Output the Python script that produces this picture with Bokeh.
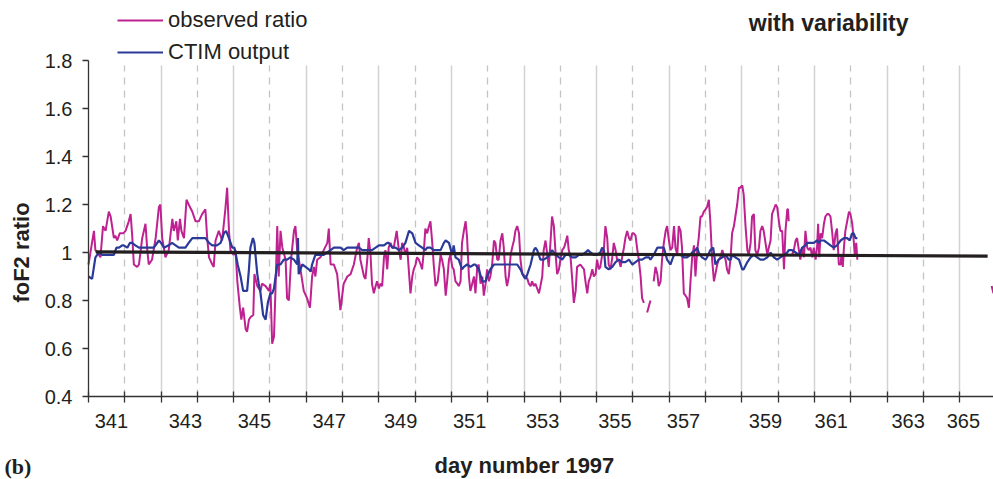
import math
from bokeh.plotting import figure
from bokeh.models import Range1d, FixedTicker, Grid, Label, Legend, LegendItem
from bokeh.embed import file_html
from bokeh.resources import INLINE

NaN = float("nan")

# observed foF2 ratio (day number, ratio); NaN marks data gaps
obs_day = [
    340.00, 340.15, 340.19, 340.29, 340.33, 340.40, 340.47, 340.56, 340.61, 340.70,
    340.74, 340.79, 340.86, 340.96, 341.02, 341.11, 341.16, 341.20, 341.25, 341.34,
    341.39, 341.48, 341.57, 341.62, 341.66, 341.75, 341.85, 341.94, 341.98, 342.03,
    342.12, 342.21, 342.31, 342.35, 342.42, 342.46, 342.52, 342.56, 342.63, 342.70,
    342.76, 342.86, 342.95, 343.04, 343.13, 343.22, 343.27, 343.32, 343.41, 343.45,
    343.50, 343.59, 343.68, 343.77, 343.82, 343.87, 343.91, 344.00, 344.05, 344.10,
    344.17, 344.21, 344.26, 344.33, 344.37, 344.42, 344.46, 344.54, 344.57, 344.65,
    344.74, 344.78, 344.88, 344.97, 345.01, 345.06, 345.11, 345.15, 345.20, 345.24,
    345.29, 345.34, 345.43, 345.47, 345.52, 345.58, 345.66, 345.70, 345.75, 345.84,
    345.93, 346.02, 346.10, 346.12, 346.16, 346.21, 346.25, 346.30, 346.39, 346.48,
    346.58, 346.62, 346.67, 346.76, 346.85, 346.94, 347.03, 347.13,
    347.22, 347.31, 347.40, 347.45, 347.49, 347.59, 347.63, 347.68, 347.72, 347.77,
    347.81, 347.86, 347.91, 347.95, 348.00, 348.04, 348.09, 348.14, 348.18, 348.23,
    348.27, 348.32, 348.37, 348.41, 348.49, 348.55, 348.60, 348.64, 348.69, 348.73,
    348.78, 348.87, 348.92, 348.96, 349.01, 349.05, 349.10, 349.15, 349.19, 349.24,
    349.28, 349.33, 349.38, 349.42, 349.47, 349.51, 349.56, 349.62, 349.70, 349.74,
    349.79, 349.84, 349.88, 349.93, 349.97, 350.02, 350.06, 350.11, 350.16, 350.20,
    350.25, 350.29, 350.34, 350.39, 350.43, 350.48, 350.52, 350.62, 350.66, 350.71,
    350.75, 350.80, 350.85, 350.89, 350.94, 350.98, 351.03, 351.07, 351.12, 351.17,
    351.21, 351.26, 351.30, 351.35, 351.40, 351.44, 351.49, 351.53, 351.58, 351.63,
    351.67, 351.72, 351.76, 351.81, 351.86, 351.90, 351.95, 352.04, 352.09, 352.13,
    352.18, 352.22, 352.27, 352.31, 352.36, 352.41, 352.45, 352.50, 352.54, 352.59,
    352.64, 352.68, 352.73, 352.77, 352.82, 352.87, 352.91, 352.96, 353.00, 353.05,
    353.10, 353.14, 353.19, 353.23, 353.28, 353.32, 353.37, 353.42, 353.46, 353.55,
    353.65, 353.69, 353.74, 353.78, 353.83, 353.88, 353.92, 353.97, 354.01, 354.06,
    354.10, 354.15, 354.20, 354.24, 354.29, 354.33, 354.38, 354.43, 354.47, 354.52,
    354.56, 354.61, 354.66, 354.70, 354.75, 354.79, 354.84, 354.89, 354.93, 354.98,
    355.02, 355.07, 355.12, 355.16, 355.21, 355.25, 355.30, 355.34,
    355.39, 355.48, 355.52,
    355.57, 355.62, 355.67, 355.71, 355.76, 355.80, 355.85, 355.90, 355.94, 355.99,
    356.03, 356.08, 356.13, 356.17, 356.22, 356.26, 356.31, 356.35, 356.40, 356.45,
    356.49, 356.54, 356.58, 356.63, 356.68, 356.72, 356.77, 356.81, 356.86, 356.90,
    356.95, 357.00, 357.04, 357.09, 357.13, 357.18, 357.23, 357.27, 357.32, 357.36,
    357.41, 357.46, 357.50, 357.55, 357.59, 357.64, 357.69, 357.73, 357.78, 357.82,
    357.87, 357.92, 357.96, 358.01, 358.05, 358.10, 358.15, 358.19, 358.24, 358.28,
    358.33, 358.37, 358.42, 358.47, 358.51, 358.56, 358.60, 358.65, 358.70, 358.74,
    358.79, 358.83, 358.88, 358.93, 358.97, 359.02, 359.06, 359.11, 359.16, 359.20,
    359.25, 359.27, 359.29, 359.33,
    359.38, 359.43, 359.48, 359.52, 359.57, 359.61, 359.66, 359.71, 359.75, 359.80,
    359.84, 359.89, 359.94, 359.98, 360.03, 360.07, 360.10, 360.13, 360.17, 360.21,
    360.26, 360.30, 360.35, 360.39, 360.44, 360.49, 360.53, 360.58, 360.62, 360.67,
    360.72, 360.74, 360.78, 360.81, 360.85, 360.90, 360.95, 360.99, 361.04, 361.08,
    361.11, 361.15, 361.18, 361.50,
    364.88, 364.93,
]
obs_ratio = [
    0.95, 1.09, 1.01, 0.99, 0.98, 1.11, 1.09, 1.17, 1.15, 1.06,
    1.07, 1.05, 1.08, 1.08, 1.09, 1.13, 1.16, 1.08, 0.95, 0.94,
    0.95, 1.06, 1.12, 1.01, 0.95, 0.97, 1.06, 1.19, 1.20, 1.06,
    0.98, 1.01, 1.14, 1.09, 1.13, 1.05, 1.14, 1.09, 1.06, 1.22,
    1.20, 1.17, 1.13, 1.13, 1.16, 1.18, 1.06, 0.98, 0.95, 0.94,
    1.05, 1.09, 1.05, 1.18, 1.27, 1.09, 1.01, 0.99, 1.01, 0.88,
    0.77, 0.72, 0.77, 0.68, 0.67, 0.72, 0.73, 0.74, 0.91, 0.86,
    0.84, 0.87, 0.86, 0.84, 0.87, 0.62, 0.65, 0.84, 1.11, 0.90,
    1.09, 1.02, 0.97, 0.81, 0.80, 0.97, 1.09, 1.11, 1.01, 0.93,
    0.84, 0.81, 0.77, 0.81, 0.90, 0.94, 0.90, 0.97, 0.98, 1.01,
    1.04, 1.10, 0.95, 0.95, 0.91, 0.76, 0.87, 0.90,
    0.91, 0.95, 1.02, 1.04, 0.97, 0.90, 0.89, 0.97, 1.06, 0.99,
    0.87, 0.83, 0.86, 0.88, 0.85, 0.87, 0.86, 0.98, 1.01, 0.93,
    1.02, 1.04, 1.02, 1.02, 1.09, 1.01, 0.97, 1.04, 1.02, 0.99,
    1.02, 0.83, 0.90, 0.93, 0.95, 0.98, 0.97, 0.95, 0.93, 1.01,
    1.10, 1.08, 1.11, 1.13, 1.04, 0.95, 0.86, 0.88, 0.99, 0.97,
    0.93, 0.82, 0.88, 0.97, 0.99, 0.94, 0.93, 0.88, 0.87, 0.86,
    0.88, 1.04, 1.09, 1.13, 1.06, 0.90, 0.84, 0.90, 0.83, 0.94,
    0.95, 0.87, 0.90, 0.82, 0.87, 0.93, 0.88, 0.90, 0.95, 1.05,
    1.04, 0.97, 0.97, 1.05, 1.08, 1.02, 0.90, 0.86, 0.90, 0.99,
    1.02, 1.05, 1.09, 1.11, 1.08, 0.97, 0.91, 0.90, 0.89, 0.87,
    0.86, 0.88, 0.86, 0.87, 0.85, 0.83, 0.86, 0.90, 1.01, 1.05,
    0.99, 0.94, 1.05, 1.15, 1.11, 0.99, 0.91, 0.93, 0.97, 1.01,
    1.02, 1.04, 1.07, 1.01, 0.98, 0.90, 0.79, 0.84, 0.94, 0.95,
    0.93, 0.88, 0.83, 0.88, 0.90, 0.93, 0.90, 0.91, 0.97, 0.93,
    0.94, 0.99, 1.02, 1.11, 1.06, 0.95, 0.93, 0.98, 1.04, 1.01,
    0.97, 0.97, 0.94, 0.98, 1.02, 1.06, 1.09, 1.06, 1.05, 1.08,
    1.08, 1.07, 1.01, 0.97, 0.90, 0.81, 0.79, NaN,
    0.75, 0.80, NaN,
    0.88, 0.94, 0.91, 0.86, 0.88, 0.97, 1.04, 1.09, 1.11, 1.05,
    1.01, 1.02, 1.11, 1.02, 0.99, 1.11, 1.09, 1.02, 0.83, 0.82,
    0.81, 0.77, 0.87, 0.98, 1.03, 0.90, 1.01, 1.06, 1.15, 1.15,
    1.17, 1.18, 1.19, 1.22, 1.13, 0.97, 0.88, 0.91, 0.95, 0.97,
    0.98, 1.01, 0.99, 0.97, 0.93, 0.91, 0.98, 1.08, 1.11, 1.15,
    1.20, 1.27, 1.27, 1.28, 1.24, 1.11, 1.01, 0.99, 1.04, 1.15,
    1.16, 1.01, 0.99, 1.02, 1.09, 1.11, 1.09, 1.04, 0.99, 1.02,
    1.05, 1.16, 1.18, 1.20, 1.19, 1.13, 1.09, 1.09, 0.93, 1.09,
    1.18, 1.18, 1.13, NaN,
    0.99, 1.01, 1.05, 1.06, 1.01, 0.97, 1.02, 0.98, 1.09, 1.02,
    1.01, 1.02, 0.98, 1.02, 0.97, 1.02, 1.12, 0.98, 1.08, 1.06,
    1.12, 1.15, 1.16, 1.16, 1.15, 1.08, 1.01, 1.08, 1.10, 0.95,
    0.95, 0.99, 0.94, 1.02, 1.09, 1.13, 1.17, 1.16, 1.12, 1.05,
    0.99, 1.04, 0.97, NaN,
    0.86, 0.83,
]

# CTIM model output
ctim_day = [
    340.00, 340.10, 340.19, 340.29, 340.38, 340.51, 340.61, 340.70, 340.77, 340.84,
    340.93, 340.97, 341.07, 341.14, 341.20, 341.29, 341.39, 341.48, 341.57, 341.71,
    341.80, 341.94, 342.00, 342.08, 342.21, 342.30, 342.40, 342.49, 342.58, 342.67,
    342.76, 342.86, 342.95, 343.04, 343.13, 343.22, 343.32, 343.41, 343.54, 343.64,
    343.73, 343.79, 343.87, 343.96, 344.02, 344.05, 344.11, 344.19, 344.26, 344.37,
    344.42, 344.46, 344.53, 344.57, 344.65, 344.69, 344.74, 344.81, 344.88, 344.94,
    345.01, 345.06, 345.11, 345.20, 345.29, 345.38, 345.47, 345.56, 345.66, 345.75,
    345.77, 345.79, 345.89, 345.98, 346.07, 346.12, 346.16, 346.25, 346.35, 346.48,
    346.57, 346.67, 346.76, 346.85, 346.94, 347.03, 347.13,
    347.22, 347.36, 347.45, 347.54, 347.68, 347.81, 347.91, 348.00, 348.14, 348.23,
    348.27, 348.37, 348.46, 348.55, 348.64, 348.73, 348.83, 348.92, 349.01, 349.10,
    349.19, 349.28, 349.33, 349.42, 349.51, 349.61, 349.70, 349.79, 349.84, 349.93,
    350.02, 350.06, 350.11, 350.20, 350.29, 350.34, 350.43, 350.52, 350.62, 350.66,
    350.75, 350.85, 350.94, 350.98, 351.07, 351.17, 351.26, 351.35, 351.44, 351.53,
    351.63, 351.72, 351.81, 351.90, 351.99, 352.04, 352.09, 352.18, 352.27, 352.31,
    352.36, 352.45, 352.54, 352.64, 352.73, 352.77, 352.87, 352.96, 353.05, 353.14,
    353.23, 353.32, 353.42, 353.51, 353.60, 353.69, 353.76, 353.83, 353.92, 354.01,
    354.10, 354.15, 354.20, 354.24, 354.33, 354.43, 354.52, 354.61, 354.70, 354.79,
    354.89, 354.98, 355.07, 355.16, 355.25, 355.35, 355.44,
    355.48, 355.57, 355.67, 355.76, 355.85, 355.94, 356.03, 356.08, 356.13, 356.22,
    356.31, 356.40, 356.49, 356.58, 356.63, 356.72, 356.77, 356.81, 356.90, 357.00,
    357.04, 357.13, 357.21, 357.27, 357.36, 357.46, 357.55, 357.64, 357.69, 357.73,
    357.82, 357.92, 358.01, 358.05, 358.15, 358.24, 358.33, 358.42, 358.51, 358.60,
    358.70, 358.79, 358.88, 358.97, 359.06, 359.16, 359.25, 359.29, 359.38, 359.48,
    359.57, 359.66, 359.75, 359.80, 359.89, 359.98, 360.07, 360.12, 360.17, 360.26,
    360.35, 360.44, 360.53, 360.62, 360.72, 360.81, 360.90, 360.97, 361.04, 361.08,
    361.13, 361.18,
]
ctim_ratio = [
    0.90, 0.89, 0.98, 1.00, 0.99, 0.99, 0.99, 0.99, 1.02, 1.02,
    1.03, 1.03, 1.02, 1.04, 1.04, 1.03, 1.02, 1.02, 1.02, 1.02,
    1.02, 1.05, 1.04, 1.02, 1.03, 1.04, 1.03, 1.02, 1.02, 1.02,
    1.04, 1.06, 1.06, 1.06, 1.06, 1.06, 1.04, 1.03, 1.03, 1.04,
    1.08, 1.09, 1.06, 1.02, 1.02, 1.00, 0.95, 0.90, 0.84, 0.84,
    0.93, 1.02, 1.06, 1.04, 0.91, 0.87, 0.83, 0.74, 0.72, 0.79,
    0.83, 0.83, 0.85, 0.95, 0.95, 0.97, 0.97, 0.98, 0.97, 0.95,
    1.06, 0.91, 0.95, 0.94, 0.93, 0.92, 0.95, 0.99, 0.99, 0.99,
    1.00, 1.01, 1.02, 1.02, 1.02, 1.01, 1.02,
    1.02, 1.02, 1.02, 1.01, 1.01, 1.01, 1.02, 1.03, 1.03, 1.04,
    1.04, 1.02, 1.02, 1.01, 1.02, 1.04, 1.09, 1.08, 1.04, 1.03,
    1.02, 1.01, 1.02, 1.02, 1.01, 1.01, 1.01, 1.04, 1.05, 1.04,
    0.99, 1.03, 0.98, 0.97, 0.93, 0.94, 0.95, 0.94, 0.95, 0.95,
    0.93, 0.88, 0.88, 0.90, 0.93, 0.95, 0.95, 0.95, 0.95, 0.95,
    0.95, 0.95, 0.95, 0.93, 0.90, 0.89, 0.91, 0.95, 1.01, 1.02,
    1.01, 0.97, 0.97, 0.98, 1.00, 1.01, 0.99, 0.98, 0.97, 0.99,
    0.99, 0.98, 0.98, 0.99, 0.99, 1.00, 1.01, 1.00, 0.99, 0.99,
    1.00, 1.02, 1.01, 0.94, 0.93, 0.94, 0.96, 0.97, 0.96, 0.96,
    0.97, 0.95, 0.96, 0.97, 0.97, 0.98, 0.98,
    0.97, 0.99, 1.02, 1.02, 1.02, 0.97, 0.95, 0.97, 0.99, 0.99,
    0.99, 0.98, 0.98, 0.99, 1.00, 1.01, 1.02, 1.00, 0.98, 0.97,
    0.98, 1.01, 1.02, 0.95, 0.97, 0.98, 0.99, 0.97, 0.97, 0.99,
    0.98, 0.97, 0.93, 0.93, 0.96, 0.98, 0.99, 0.98, 0.97, 0.97,
    0.98, 1.00, 0.98, 0.97, 0.98, 0.99, 1.00, 1.01, 1.01, 1.00,
    0.99, 1.02, 1.03, 1.04, 1.04, 1.04, 1.05, 1.04, 1.05, 1.05,
    1.04, 1.03, 1.02, 1.03, 1.05, 1.06, 1.06, 1.05, 1.08, 1.08,
    1.06, 1.06,
]

# linear trend line
trend_day = [340.20, 364.77]
trend_ratio = [1.003, 0.985]

# axes
x_label_days = [340.63, 342.67, 344.57, 346.63, 348.60, 350.50, 352.51, 354.50, 356.39, 358.65, 360.46, 362.58, 364.10]
x_labels = ["341", "343", "345", "347", "349", "351", "353", "355", "357", "359", "361", "363", "365"]
x_tick_days = [340, 341, 342, 343, 344, 345, 346, 347, 348, 349, 350, 351, 352,
               353, 354, 355, 356, 357, 358, 359, 360, 361, 362, 363, 364]
grid_solid_days = [342, 344, 346, 348, 350, 352, 354, 356, 358, 360, 362, 364]
grid_dashed_days = [341, 343, 345, 347, 349, 351, 353, 355, 357, 359, 361, 363]
y_ticks = [0.4, 0.6, 0.8, 1.0, 1.2, 1.4, 1.6, 1.8]
y_labels = ["0.4", "0.6", "0.8", "1", "1.2", "1.4", "1.6", "1.8"]

PINK = "#BE2290"
BLUE = "#2A3A98"
TXT = "#231F20"
FONT = "Liberation Sans"

# The frame spans the whole canvas; the axes are pinned at day 340 / ratio 0.4.
X0, X1 = 337.576, 364.931
Y0, Y1 = 0.0542, 2.05
p = figure(width=993, height=479, output_backend="svg", toolbar_location=None,
           x_range=Range1d(X0, X1), y_range=Range1d(Y0, Y1),
           min_border_left=0, min_border_right=0, min_border_top=0, min_border_bottom=0)
p.outline_line_color = None
p.background_fill_color = "white"
p.border_fill_color = "white"
p.xgrid.visible = False
p.ygrid.visible = False

has_cross = "cross_bounds" in Grid.properties()
extra = {"cross_bounds": (0.4, 1.78)} if has_cross else {}
g_solid = Grid(dimension=0, ticker=FixedTicker(ticks=grid_solid_days),
               grid_line_color="#d2d2d2", grid_line_width=1.5, **extra)
g_dash = Grid(dimension=0, ticker=FixedTicker(ticks=grid_dashed_days),
              grid_line_color="#c4c4c4", grid_line_width=1.3, grid_line_dash="7 6", **extra)
if has_cross:
    p.add_layout(g_solid)
    p.add_layout(g_dash)
else:
    p.segment(x0=grid_solid_days, y0=[0.4] * len(grid_solid_days),
              x1=grid_solid_days, y1=[1.78] * len(grid_solid_days),
              line_color="#d2d2d2", line_width=1.5)
    p.segment(x0=grid_dashed_days, y0=[0.4] * len(grid_dashed_days),
              x1=grid_dashed_days, y1=[1.78] * len(grid_dashed_days),
              line_color="#c4c4c4", line_width=1.3, line_dash="7 6")

xa = p.xaxis[0]
xa.fixed_location = 0.4
xa.bounds = (340, X1)
xa.ticker = FixedTicker(ticks=x_label_days, minor_ticks=x_tick_days)
xa.major_label_overrides = {d: l for d, l in zip(x_label_days, x_labels)}
xa.major_tick_in = 0
xa.major_tick_out = 0
xa.minor_tick_in = 5
xa.minor_tick_out = 6
xa.minor_tick_line_color = "#333333"
xa.minor_tick_line_width = 1.3
xa.axis_line_color = "#333333"
xa.axis_line_width = 1.3
xa.major_label_text_font = FONT
xa.major_label_text_font_size = "20px"
xa.major_label_text_color = TXT
xa.major_label_standoff = 11

ya = p.yaxis[0]
ya.fixed_location = 340
ya.bounds = (0.4, 1.8)
ya.ticker = FixedTicker(ticks=y_ticks)
ya.major_label_overrides = {t: l for t, l in zip(y_ticks, y_labels)}
ya.major_tick_in = 0
ya.major_tick_out = 6
ya.minor_tick_in = 0
ya.minor_tick_out = 0
ya.major_tick_line_color = "#333333"
ya.major_tick_line_width = 1.3
ya.axis_line_color = "#333333"
ya.axis_line_width = 1.3
ya.major_label_text_font = FONT
ya.major_label_text_font_size = "20px"
ya.major_label_text_color = TXT
ya.major_label_standoff = 10

r_obs = p.line(obs_day, obs_ratio, line_color=PINK, line_width=2)
r_ctim = p.line(ctim_day, ctim_ratio, line_color=BLUE, line_width=2.2)
p.line(trend_day, trend_ratio, line_color="#231F20", line_width=3.2)

legend = Legend(items=[LegendItem(label="observed ratio", renderers=[r_obs]),
                       LegendItem(label="CTIM output", renderers=[r_ctim])],
                location=(117, 414), orientation="vertical",
                padding=0, margin=0, spacing=6, glyph_width=46, glyph_height=24,
                label_height=24, label_standoff=5,
                label_text_font=FONT, label_text_font_size="22px", label_text_color=TXT,
                border_line_color=None, background_fill_alpha=0)
p.add_layout(legend)

p.add_layout(Label(x=360.39, y=1.958, text="with variability",
                   text_font=FONT, text_font_size="23px", text_font_style="bold",
                   text_color=TXT, text_align="center", text_baseline="middle"))
p.add_layout(Label(x=352.01, y=0.1125, text="day number 1997",
                   text_font=FONT, text_font_size="22px", text_font_style="bold",
                   text_color=TXT, text_align="center", text_baseline="middle"))
p.add_layout(Label(x=4, y=0.1083, x_units="screen", text="(b)",
                   text_font="Liberation Serif", text_font_size="22px", text_font_style="bold",
                   text_color=TXT, text_align="left", text_baseline="middle"))
p.add_layout(Label(x=21, y=1.0, x_units="screen", text="foF2 ratio",
                   angle=math.pi / 2, text_font=FONT, text_font_size="22px", text_font_style="bold",
                   text_color=TXT, text_align="center", text_baseline="middle"))

open("out.html", "w").write(file_html(p, INLINE))
